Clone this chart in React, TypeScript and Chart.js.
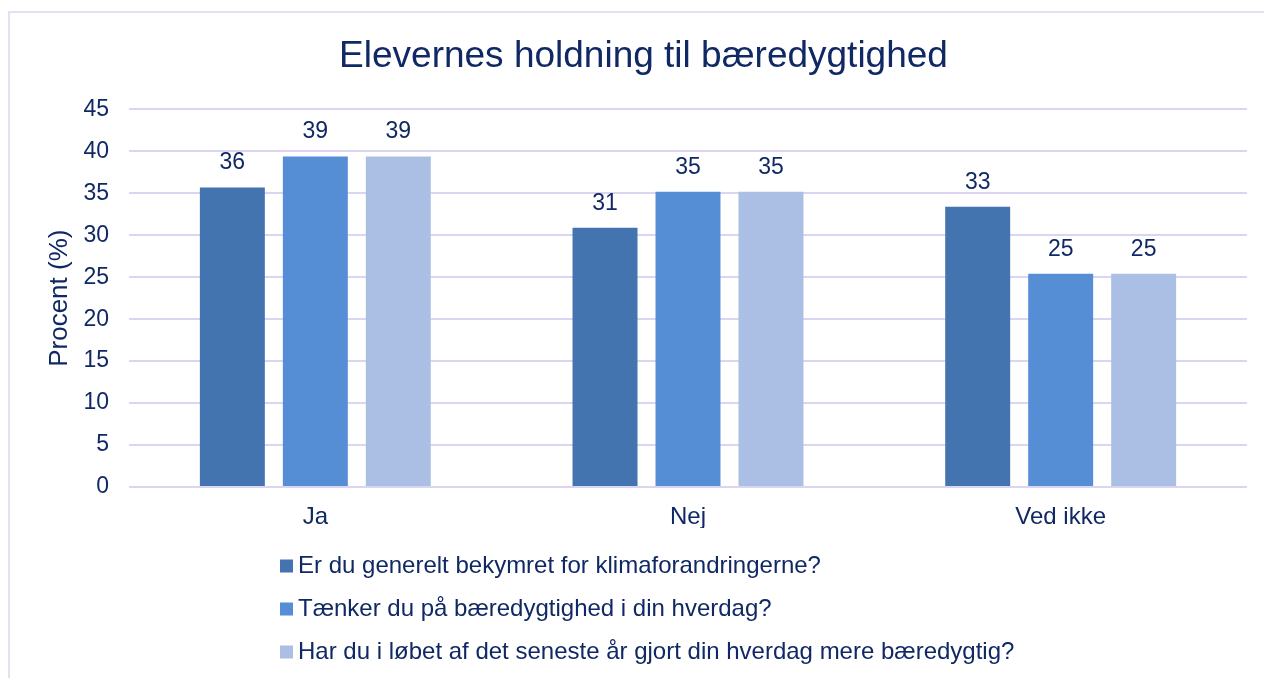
import React, { useEffect, useRef } from "react";
import { Chart, registerables } from "chart.js";

Chart.register(...registerables);

const categories = ["Ja", "Nej", "Ved ikke"];
const seriesNames = [
  "Er du generelt bekymret for klimaforandringerne?",
  "Tænker du på bæredygtighed i din hverdag?",
  "Har du i løbet af det seneste år gjort din hverdag mere bæredygtig?",
];
const bekymret = [35.7, 30.9, 33.4];
const taenker = [39.4, 35.2, 25.4];
const gjort = [39.4, 35.2, 25.4];
const yTicks = [0, 5, 10, 15, 20, 25, 30, 35, 40, 45];
const titleText = "Elevernes holdning til bæredygtighed";
const yTitle = "Procent (%)";

const colors = ["#4474AF", "#558ED5", "#ABBFE5"];
const TEXT = "#102864";
const GRID = "#DAD6F2";
const FONT = "'Liberation Sans', Arial, Helvetica, sans-serif";

const framePlugin = {
  id: "frame",
  beforeDraw(chart: any) {
    const ctx = chart.ctx;
    ctx.save();
    ctx.fillStyle = "#ffffff";
    ctx.fillRect(0, 0, chart.width, chart.height);
    ctx.strokeStyle = "#D9D6F0";
    ctx.lineWidth = 1.5;
    ctx.beginPath();
    ctx.moveTo(9, chart.height);
    ctx.lineTo(9, 12);
    ctx.lineTo(chart.width, 12);
    ctx.stroke();
    ctx.restore();
  },
};

const dataLabelPlugin = {
  id: "dataLabels",
  afterDatasetsDraw(chart: any) {
    const ctx = chart.ctx;
    ctx.save();
    ctx.font = `23px ${FONT}`;
    ctx.fillStyle = TEXT;
    ctx.textAlign = "center";
    ctx.textBaseline = "alphabetic";
    chart.data.datasets.forEach((ds: any, i: number) => {
      const meta = chart.getDatasetMeta(i);
      meta.data.forEach((el: any, j: number) => {
        const v = ds.data[j];
        ctx.fillText(String(Math.round(v)), el.x, el.y - 18);
      });
    });
    ctx.restore();
  },
};

const legendPlugin = {
  id: "customLegend",
  afterDraw(chart: any) {
    const ctx = chart.ctx;
    const left = chart.chartArea.left + 151;
    const top = chart.chartArea.bottom + 79;
    const step = 43;
    ctx.save();
    ctx.font = `24px ${FONT}`;
    ctx.textAlign = "left";
    ctx.textBaseline = "middle";
    chart.data.datasets.forEach((ds: any, i: number) => {
      const cy = top + i * step;
      ctx.fillStyle = ds.backgroundColor;
      ctx.fillRect(left, cy - 6.5, 13, 13);
      ctx.fillStyle = TEXT;
      ctx.fillText(ds.label, left + 18, cy);
    });
    ctx.restore();
  },
};

export default function App() {
  const ref = useRef<HTMLCanvasElement>(null);

  useEffect(() => {
    if (!ref.current) return;
    const seriesData = [bekymret, taenker, gjort];
    const chart = new Chart(ref.current, {
      type: "bar",
      data: {
        labels: categories,
        datasets: seriesNames.map((name, i) => ({
          label: name,
          data: seriesData[i],
          backgroundColor: colors[i],
          borderWidth: 0,
          categoryPercentage: 0.668,
          barPercentage: 0.783,
        })),
      },
      options: {
        responsive: false,
        animation: false,
        layout: { padding: { left: 40, right: 17, top: 0, bottom: 150 } },
        plugins: {
          legend: { display: false },
          tooltip: { enabled: false },
          title: {
            display: true,
            text: titleText,
            color: TEXT,
            font: { family: FONT, size: 37, weight: "normal" },
            padding: { top: 35, bottom: 30 },
          },
        },
        scales: {
          x: {
            grid: { display: false },
            border: { display: false },
            ticks: {
              color: TEXT,
              font: { family: FONT, size: 24 },
              padding: 8,
            },
            afterFit(scale: any) {
              scale.height = 41;
            },
          },
          y: {
            min: 0,
            max: 45,
            afterBuildTicks(scale: any) {
              scale.ticks = yTicks.map((v) => ({ value: v }));
            },
            grid: { color: GRID, lineWidth: 2, drawTicks: false },
            border: { display: false },
            ticks: {
              color: TEXT,
              font: { family: FONT, size: 23 },
              padding: 20,
            },
            title: {
              display: true,
              text: yTitle,
              color: TEXT,
              font: { family: FONT, size: 26 },
              padding: { top: 4, bottom: 4 },
            },
            afterFit(scale: any) {
              scale.width = 89;
            },
          },
        },
      },
      plugins: [framePlugin, dataLabelPlugin, legendPlugin],
    } as any);
    return () => chart.destroy();
  }, []);

  return (
    <div
      style={{
        position: "fixed",
        left: 0,
        top: 0,
        width: 1264,
        height: 678,
        background: "#fff",
      }}
    >
      <canvas ref={ref} width={1264} height={678} style={{ display: "block" }} />
    </div>
  );
}
